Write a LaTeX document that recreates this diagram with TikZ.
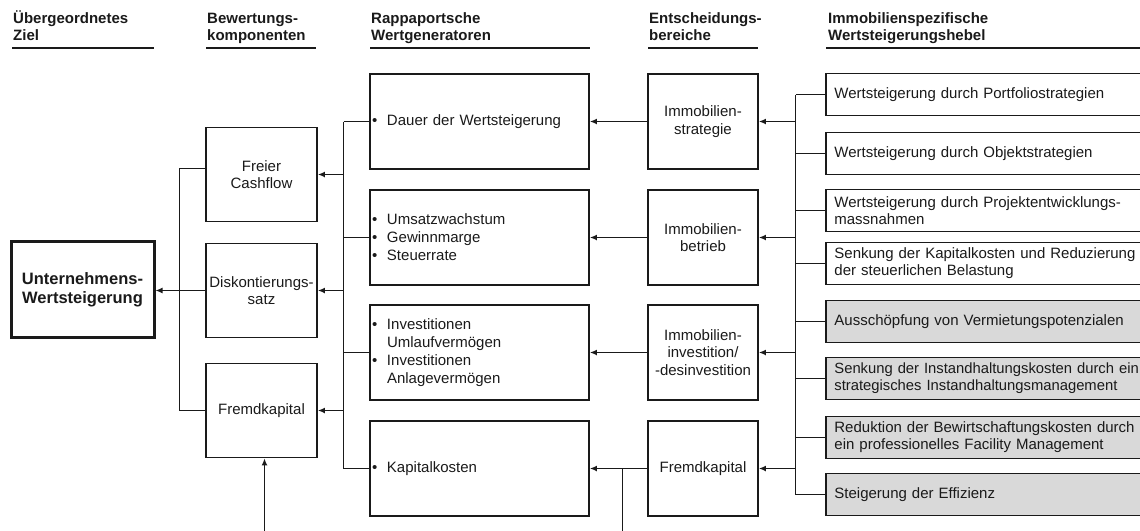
\documentclass[tikz,border=0pt]{standalone}
\usepackage{fontspec}
\setmainfont{Liberation Sans}
\usetikzlibrary{arrows.meta}
\definecolor{ink}{HTML}{1A1A1A}
\definecolor{hebelgrau}{HTML}{D9D9D9}
% bullet with a fixed hanging width, and the matching indent for wrapped lines
\newcommand\bul{\makebox[15pt][l]{\textbullet}}
\newcommand\ind{\hspace*{15pt}}

\begin{document}
\begin{tikzpicture}[x=1pt,y=-1pt,
  font=\fontsize{15}{17.5}\selectfont,
  every node/.style={text=ink},
  box/.style={draw=ink, line width=1.8pt, rectangle, inner sep=0pt},
  hdr/.style={font=\fontsize{15}{17}\selectfont\bfseries, anchor=base west, align=left, inner sep=0pt},
  hline/.style={draw=ink, line width=2pt},
  komp/.style={box, minimum width=111pt, minimum height=94pt, align=center},
  gen/.style={box, minimum width=219pt, minimum height=95pt, text width=215pt, inner xsep=2pt, align=left, font=\fontsize{15}{18}\selectfont},
  ent/.style={box, minimum width=110pt, minimum height=95pt, align=center},
  hebel/.style={box, anchor=west, minimum height=42pt, text width=320pt, inner xsep=8.5pt, align=left, font=\fontsize{15}{17}\selectfont},
  grau/.style={fill=hebelgrau},
  line/.style={draw=ink, line width=1.7pt},
  arr/.style={line, -{Latex[length=7pt,width=6pt]}}
]
\useasboundingbox (0,0) rectangle (1140,530);

% column headings (anchored on the baseline of their second line)
\node[hdr] (t1) at (13,40)  {Übergeordnetes\\Ziel};
\node[hdr] (t2) at (207,40) {Bewertungs-\\komponenten};
\node[hdr] (t3) at (371,40) {Rappaportsche\\Wertgeneratoren};
\node[hdr] (t4) at (649,40) {Entscheidungs-\\bereiche};
\node[hdr] (t5) at (828,40) {Immobilienspezifische\\Wertsteigerungshebel};
\draw[hline] (12,47.5) -- (154,47.5);
\draw[hline] (206,47.5) -- (316,47.5);
\draw[hline] (370,47.5) -- (590,47.5);
\draw[hline] (648,47.5) -- (758,47.5);
\draw[hline] (826,47.5) -- (1140,47.5);

% overall goal
\node[box, line width=3pt, minimum width=143pt, minimum height=96pt, align=center,
      font=\fontsize{16.5}{19}\selectfont\bfseries] (ziel) at (82.5,289.5) {Unternehmens-\\Wertsteigerung};

% valuation components
\node[komp] (fcf)  at (261.5,174.5) {Freier\\Cashflow};
\node[komp] (disk) at (261.5,290.5) {Diskontierungs-\\satz};
\node[komp] (fk)   at (261.5,410.5) {Fremdkapital};

% Rappaport value drivers
\node[gen] (dauer)  at (479.5,121.5) {\bul Dauer der Wertsteigerung};
\node[gen] (umsatz) at (479.5,237.5) {\bul Umsatzwachstum\\\bul Gewinnmarge\\\bul Steuerrate};
\node[gen] (invest) at (479.5,352.5) {\bul Investitionen\\\ind Umlaufvermögen\\\bul Investitionen\\\ind Anlagevermögen};
\node[gen] (kk)     at (479.5,468.5) {\bul Kapitalkosten};

% decision areas
\node[ent] (strat)   at (703,121.5) {Immobilien-\\strategie};
\node[ent] (betrieb) at (703,237.5) {Immobilien-\\betrieb};
\node[ent] (invdes)  at (703,352.5) {Immobilien-\\investition/\\-desinvestition};
\node[ent] (fk2)     at (703,468.5) {Fremdkapital};

% real-estate value levers
\node[hebel] (h1) at (825,94.5)  {Wertsteigerung durch Portfoliostrategien};
\node[hebel] (h2) at (825,153.5) {Wertsteigerung durch Objektstrategien};
\node[hebel] (h3) at (825,210.5) {Wertsteigerung durch Projektentwicklungs-\\massnahmen};
\node[hebel] (h4) at (825,263.5) {Senkung der Kapitalkosten und Reduzierung\\der steuerlichen Belastung};
\node[hebel, grau] (h5) at (825,321.5) {Ausschöpfung von Vermietungspotenzialen};
\node[hebel, grau, font=\fontsize{14.8}{17}\selectfont] (h6) at (825,378.5) {Senkung der Instandhaltungskosten durch ein\\strategisches Instandhaltungsmanagement};
\node[hebel, grau] (h7) at (825,437.5) {Reduktion der Bewirtschaftungskosten durch\\ein professionelles Facility Management};
\node[hebel, grau] (h8) at (825,494.5) {Steigerung der Effizienz};

% levers -> decision areas
\coordinate (bus5) at (795.5,0);
\foreach \n in {h1,h2,h3,h4,h5,h6,h7,h8}
  \draw[line] (\n.west) -- (\n.west -| bus5);
\draw[line] (h1.west -| bus5) -- (h8.west -| bus5);
\foreach \n in {strat,betrieb,invdes,fk2}
  \draw[arr] (\n.east -| bus5) -- (\n.east);

% decision areas -> value drivers
\draw[arr] (strat) -- (dauer);
\draw[arr] (betrieb) -- (umsatz);
\draw[arr] (invdes) -- (invest);
\draw[arr] (fk2) -- (kk);

% value drivers -> valuation components
\coordinate (bus3) at (343.5,0);
\foreach \n in {dauer,umsatz,invest,kk}
  \draw[line] (\n.west) -- (\n.west -| bus3);
\draw[line] (dauer.west -| bus3) -- (kk.west -| bus3);
\foreach \n in {fcf,disk,fk}
  \draw[arr] (\n.east -| bus3) -- (\n.east);

% valuation components -> overall goal
\coordinate (bus2) at (179.5,0);
\draw[line] ([yshift=6pt]fcf.west) -| (bus2 |- fk.west) -- (fk.west);
\draw[arr] (disk.west) -- (disk.west -| ziel.east);

% feeds entering from below
\coordinate (zufuhr1) at (264.5,532);
\draw[arr] (zufuhr1) -- (zufuhr1 |- fk.south);
\coordinate (zufuhr2) at (622.5,532);
\draw[line] (zufuhr2) -- (zufuhr2 |- kk.east);
\end{tikzpicture}
\end{document}
